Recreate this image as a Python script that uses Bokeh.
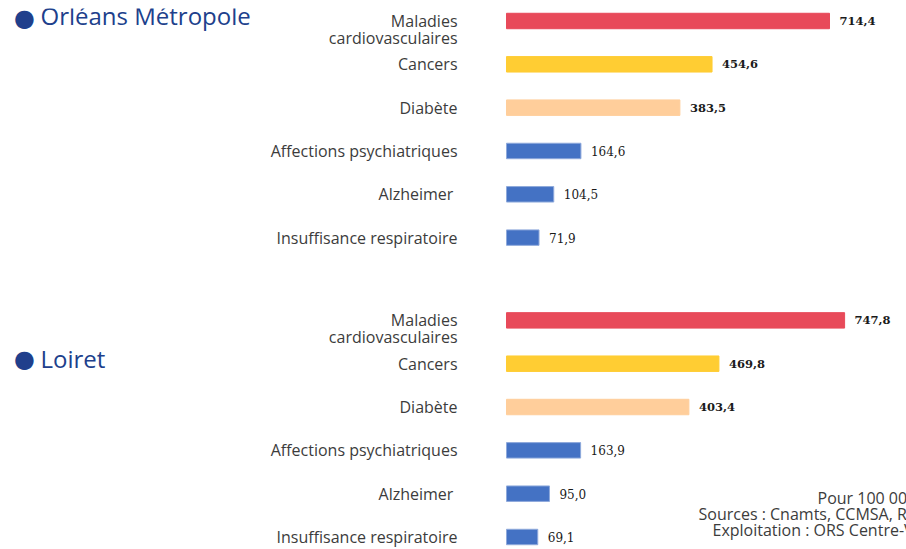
from bokeh.plotting import figure
from bokeh.models import ColumnDataSource, FactorRange, Label, Range1d
from bokeh.embed import file_html
from bokeh.resources import INLINE
from bokeh.core.properties import value

# ---- data ----
groups = ["Orléans Métropole", "Loiret"]
categories = ["Maladies cardiovasculaires", "Cancers", "Diabète",
              "Affections psychiatriques", "Alzheimer", "Insuffisance respiratoire"]
category_labels = ["Maladies\ncardiovasculaires", "Cancers", "Diabète",
                   "Affections psychiatriques", "Alzheimer ", "Insuffisance respiratoire"]
orleans_values = [714.4, 454.6, 383.5, 164.6, 104.5, 71.9]
loiret_values = [747.8, 469.8, 403.4, 163.9, 95.0, 69.1]
footnotes = ["Pour 100 000 habitants",
             "Sources : Cnamts, CCMSA, RSI (2012-14)",
             "Exploitation : ORS Centre-Val de Loire"]

# ---- styles ----
palette = ["#E84A5A", "#FFCD33", "#FFCE9B", "#4472C4", "#4472C4", "#4472C4"]
edge = ["#E84A5A", "#FFCD33", "#FFCE9B", "#8EA9DB", "#8EA9DB", "#8EA9DB"]
bold_flags = [True, True, True, False, False, False]
TITLE_BLUE = "#203F8C"
TEXT_GREY = "#3C3C3C"

W, H = 906, 549

factors, vals, cols, lcols, labels, styles, sizes, texts, yoff = [], [], [], [], [], [], [], [], []
for g, series in zip(groups, [orleans_values, loiret_values]):
    for i, c in enumerate(categories):
        factors.append((g, c))
        vals.append(series[i])
        cols.append(palette[i])
        lcols.append(edge[i])
        labels.append(category_labels[i])
        styles.append("bold" if bold_flags[i] else "normal")
        sizes.append("11.5px" if bold_flags[i] else "12px")
        texts.append(f"{series[i]:.1f}".replace(".", ","))
        yoff.append(8.3 if "\n" in category_labels[i] else 0)

src = ColumnDataSource(dict(y=factors, v=vals, color=cols, lc=lcols, lab=labels,
                            st=styles, fs=sizes, txt=texts, yo=yoff,
                            zero=[0] * len(vals)))

order = list(reversed(factors))
y_range = FactorRange(factors=order, factor_padding=0.0, group_padding=0.91,
                      range_padding=-0.2115, range_padding_units="absolute")
x_range = Range1d(-1119.2, 884.7)

p = figure(width=W, height=H, x_range=x_range, y_range=y_range,
           output_backend="svg", toolbar_location=None,
           min_border=0, min_border_left=0, min_border_right=0,
           min_border_top=8, min_border_bottom=0)
p.axis.visible = False
p.grid.visible = False
p.outline_line_color = None
p.background_fill_color = "white"
p.border_fill_color = "white"

p.hbar(y="y", left=0, right="v", height=0.357, fill_color="color",
       line_color="lc", line_width=1, source=src)

p.text(x="v", y="y", text="txt", x_offset=10, text_align="left",
       text_baseline="middle", text_font=value("DejaVu Serif"),
       text_font_size="fs", text_font_style="st", text_color="#1A1A1A",
       source=src)

p.text(x="zero", y="y", text="lab", x_offset=-49, y_offset="yo",
       text_align="right", text_baseline="middle", text_font=value("Open Sans"),
       text_font_size="16px", text_color=TEXT_GREY, text_line_height=0.76,
       source=src)

# group titles
for g, ycirc, ytxt in zip(groups, [531.7, 191.0], [534.2, 191.5]):
    p.add_layout(Label(x=24, y=ycirc, x_units="screen", y_units="screen",
                       text="●", text_font="DejaVu Sans", text_font_size="24px",
                       text_baseline="middle", text_align="center",
                       text_color=TITLE_BLUE))
    p.add_layout(Label(x=40, y=ytxt, x_units="screen", y_units="screen",
                       text=g, text_font="Open Sans", text_font_size="24px",
                       text_baseline="middle", text_align="left",
                       text_color=TITLE_BLUE))

# footnote (runs past the right edge, as in the source)
for t, xs, ys in zip(footnotes, [817, 698, 712], [52, 36, 20]):
    p.add_layout(Label(x=xs, y=ys, x_units="screen", y_units="screen", text=t,
                       text_font="Open Sans", text_font_size="16px",
                       text_baseline="middle", text_align="left",
                       text_color=TEXT_GREY))

open("out.html", "w").write(file_html(p, INLINE))
